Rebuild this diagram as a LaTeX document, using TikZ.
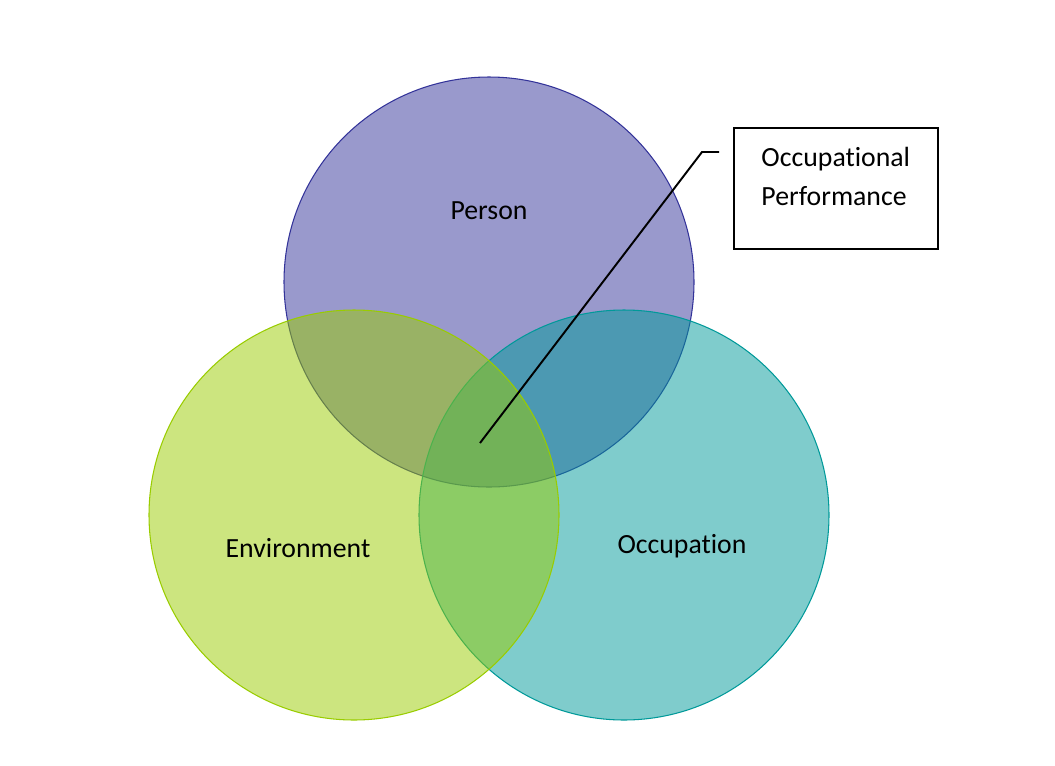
\documentclass[tikz,border=0pt]{standalone}
\usepackage{fontspec}
\setmainfont{Carlito}[Ligatures=NoCommon]
\usetikzlibrary{positioning}
\definecolor{personcol}{RGB}{51,51,153}
\definecolor{envcol}{RGB}{153,204,0}
\definecolor{occcol}{RGB}{0,153,153}

\begin{document}
\begin{tikzpicture}[x=0.02cm,y=-0.02cm,
    ring/.style={line width=0.6pt,fill opacity=0.5},
    lbl/.style={font=\fontsize{15.8}{22}\selectfont}]
  \useasboundingbox (0,0) rectangle (1055,765);
  % the three circles
  \filldraw[ring,draw=personcol,fill=personcol] (489,282) circle[radius=205];
  \filldraw[ring,draw=occcol,fill=occcol] (624,515) circle[radius=205];
  \filldraw[ring,draw=envcol,fill=envcol] (354,515) circle[radius=205];
  \node[lbl] (person) at (489,211) {Person};
  \node[lbl] (env) at (298,548) {Environment};
  \node[lbl] (occ) at (682,546) {Occupation};
  % callout
  \node[draw,line width=1pt,minimum width=4.08cm,minimum height=2.42cm] (perfbox) at (836,188.5) {};
  \node[lbl,align=left,anchor=north west,inner sep=0pt] (perftext)
    at ([xshift=0.56cm,yshift=-0.4cm]perfbox.north west) {Occupational\\Performance};
  \coordinate (tip) at (480,443);
  \coordinate (knee) at (702,152);
  \coordinate (tail) at (719,152);
  \draw[line width=1.1pt] (tip) -- (knee) -- (tail);
\end{tikzpicture}
\end{document}
